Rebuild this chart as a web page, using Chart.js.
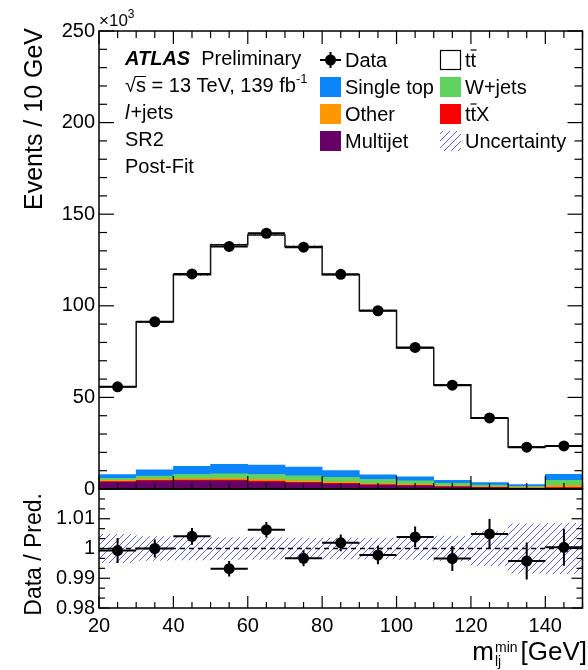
<!DOCTYPE html>
<html><head><meta charset="utf-8">
<script src="https://cdn.jsdelivr.net/npm/chart.js@4.4.0/dist/chart.umd.min.js"></script>
<style>html,body{margin:0;padding:0;background:#fff;}canvas{display:block;}</style>
</head><body>
<canvas id="c" width="588" height="670"></canvas>
<script>
// ---- data (events in units of 10^3) ----
const binCenters = [25, 35, 45, 55, 65, 75, 85, 95, 105, 115, 125, 135, 145];
const dataEvents = [55.8, 91.3, 117.4, 132.4, 139.6, 132.0, 117.2, 97.3, 77.3, 56.7, 38.8, 22.8, 23.5];
const ttbar      = [47.9, 80.9, 104.5, 119.9, 125.7, 120.4, 107.0, 89.7, 70.4, 52.15, 35.15, 20.55, 15.5];
const singleTop  = [2.1, 3.3, 4.5, 5.1, 5.1, 4.8, 3.6, 2.6, 2.2, 1.65, 1.25, 0.85, 3.2];
const wjets      = [1.1, 1.7, 2.3, 2.6, 2.8, 2.8, 2.6, 2.3, 2.0, 1.4, 1.0, 0.7, 3.0];
const other      = [0.6, 0.7, 0.7, 0.8, 0.8, 0.7, 0.65, 0.5, 0.45, 0.4, 0.35, 0.3, 1.0];
const ttX        = [0.3, 0.4, 0.5, 0.5, 0.5, 0.5, 0.45, 0.4, 0.35, 0.3, 0.25, 0.2, 0.3];
const multijet   = [3.8, 4.3, 4.4, 4.4, 3.8, 3.2, 2.7, 2.0, 1.6, 1.0, 0.6, 0.3, 0.5];
const ratio      = [0.9993, 1.0000, 1.0041, 0.9932, 1.0063, 0.9967, 1.0019, 0.9978, 1.0039, 0.9966, 1.0049, 0.9958, 1.0004];
const ratioErr   = [0.0042, 0.0030, 0.0028, 0.0026, 0.0026, 0.0027, 0.0028, 0.0031, 0.0035, 0.0042, 0.0050, 0.0062, 0.0062];
const relUnc     = [0.0048, 0.0040, 0.0038, 0.0037, 0.0036, 0.0035, 0.0035, 0.0035, 0.0037, 0.0042, 0.0058, 0.0083, 0.0085];
const xTickLabels = [20, 40, 60, 80, 100, 120, 140];
const yTickLabels = [0, 50, 100, 150, 200, 250];
const ratioTickLabels = [0.98, 0.99, 1, 1.01];
const BIN_HALF = 5;

// ---- derived tables for the library ----
const total = binCenters.map((_, i) => ttbar[i] + singleTop[i] + wjets[i] + other[i] + ttX[i] + multijet[i]);
const xy = (arr) => binCenters.map((c, i) => ({x: c, y: arr[i]}));
const stepPts = binCenters.map((c, i) => ({x: c - BIN_HALF, y: total[i]}))
  .concat([{x: binCenters[binCenters.length - 1] + BIN_HALF, y: total[total.length - 1]}]);
const hBars = (vals) => binCenters.flatMap((c, i) => [{x: c - BIN_HALF, y: vals[i]}, {x: c + BIN_HALF, y: vals[i]}, {x: c + BIN_HALF, y: null}]);
const vBars = (vals, errs) => binCenters.flatMap((c, i) => [{x: c, y: vals[i] - errs[i]}, {x: c, y: vals[i] + errs[i]}, {x: c, y: null}]);

const FONT = '"Liberation Sans", Arial, Helvetica, sans-serif';

function hatch(color) {
  const s = 7;
  const c = document.createElement('canvas'); c.width = s; c.height = s;
  const g = c.getContext('2d');
  g.strokeStyle = color; g.lineWidth = 1;
  g.beginPath();
  g.moveTo(0, s); g.lineTo(s, 0);
  g.moveTo(-1, 1); g.lineTo(1, -1);
  g.moveTo(s - 1, s + 1); g.lineTo(s + 1, s - 1);
  g.stroke();
  return g.createPattern(c, 'repeat');
}
const HATCH = hatch('#5f5fe2');

const COLORS = {
  single: 'rgb(12,132,250)', wjets: 'rgb(96,210,96)', other: 'rgb(255,152,0)',
  ttx: 'rgb(250,0,0)', multi: 'rgb(102,0,102)'
};

const barBase = {type: 'bar', yAxisID: 'y', xAxisID: 'x', stack: 'mc', grouped: false,
  barPercentage: 1, categoryPercentage: 1, borderWidth: 0, order: 10};

const decor = {
  id: 'decor',
  afterDatasetsDraw(chart) {
    const {ctx} = chart;
    const x = chart.scales.x, y = chart.scales.y, yr = chart.scales.yr;
    const L = x.left, R = x.right;
    ctx.save();
    ctx.strokeStyle = '#000';
    const seg = (x1, y1, x2, y2) => { ctx.beginPath(); ctx.moveTo(x1, y1); ctx.lineTo(x2, y2); ctx.stroke(); };
    ctx.lineWidth = 1.2;
    for (let v = 20; v <= 150; v += 5) {
      const px = x.getPixelForValue(v);
      const maj = v % 20 === 0;
      seg(px, y.top, px, y.top + (maj ? 13 : 7));
      seg(px, y.bottom, px, y.bottom - (maj ? 13 : 6));
      seg(px, yr.bottom, px, yr.bottom - (maj ? 12 : 6));
    }
    for (let v = 0; v <= 250; v += 10) {
      const py = y.getPixelForValue(v);
      const maj = v % 50 === 0;
      seg(L, py, L + (maj ? 15 : 8), py);
      seg(R, py, R - (maj ? 15 : 8), py);
    }
    for (let k = 0; k <= 12; k++) {
      const v = 0.98 + k * 0.01 / 3;
      const py = yr.getPixelForValue(v);
      const maj = k % 3 === 0;
      seg(L, py, L + (maj ? 11 : 6), py);
      seg(R, py, R - (maj ? 11 : 6), py);
    }
    ctx.lineWidth = 1.5;
    ctx.strokeRect(L, y.top, R - L, y.bottom - y.top);
    ctx.strokeRect(L, yr.top, R - L, yr.bottom - yr.top);
    ctx.restore();
  },
  afterDraw(chart) {
    const {ctx} = chart;
    ctx.save();
    ctx.fillStyle = '#000';
    ctx.textBaseline = 'alphabetic';
    const txt = (s, x, y, size, style, align) => {
      ctx.font = (style || '') + ' ' + size + 'px ' + FONT;
      ctx.textAlign = align || 'left';
      ctx.fillText(s, x, y);
      return ctx.measureText(s).width;
    };
    // x10^3
    const w10 = txt('\u00d710', 99, 26, 17);
    txt('3', 99 + w10, 18, 12);
    // ATLAS label block
    const wA = txt('ATLAS', 125, 65, 20, 'bold italic');
    txt('Preliminary', 125 + wA + 11, 65, 20);
    const wr = txt('\u221a', 125, 92, 20);
    const ws = txt('s', 125 + wr, 92, 20);
    ctx.lineWidth = 1; ctx.strokeStyle = '#000';
    ctx.beginPath(); ctx.moveTo(125 + wr - 1, 76.5); ctx.lineTo(125 + wr + ws, 76.5); ctx.stroke();
    const wE = txt(' = 13 TeV, 139 fb', 125 + wr + ws, 92, 20);
    txt('-1', 125 + wr + ws + wE, 83, 13);
    const wl = txt('l', 125, 119, 20, 'italic');
    txt('+jets', 125 + wl + 1, 119, 20);
    txt('SR2', 125, 146, 20);
    txt('Post-Fit', 125, 173, 20);
    // legend
    const rows = [60, 87, 114, 141];
    const c1 = 320, c2 = 440, sw = 21, sh = 20;
    ctx.lineWidth = 2;
    ctx.beginPath(); ctx.moveTo(c1, rows[0]); ctx.lineTo(c1 + sw, rows[0]);
    ctx.moveTo(c1 + sw / 2, rows[0] - 8); ctx.lineTo(c1 + sw / 2, rows[0] + 8); ctx.stroke();
    ctx.beginPath(); ctx.arc(c1 + sw / 2, rows[0], 5.5, 0, Math.PI * 2); ctx.fill();
    txt('Data', 345, rows[0] + 7, 20);
    ctx.fillStyle = COLORS.single; ctx.fillRect(c1, rows[1] - sh / 2, sw, sh);
    ctx.fillStyle = COLORS.other; ctx.fillRect(c1, rows[2] - sh / 2, sw, sh);
    ctx.fillStyle = COLORS.multi; ctx.fillRect(c1, rows[3] - sh / 2, sw, sh);
    ctx.fillStyle = '#000';
    txt('Single top', 345, rows[1] + 7, 20);
    txt('Other', 345, rows[2] + 7, 20);
    txt('Multijet', 345, rows[3] + 7, 20);
    ctx.lineWidth = 1.2; ctx.strokeStyle = '#000';
    ctx.fillStyle = '#fff'; ctx.fillRect(c2, rows[0] - sh / 2, sw, sh);
    ctx.strokeRect(c2 + 0.5, rows[0] - sh / 2 + 0.5, sw - 1, sh - 1);
    ctx.fillStyle = COLORS.wjets; ctx.fillRect(c2, rows[1] - sh / 2, sw, sh);
    ctx.fillStyle = COLORS.ttx; ctx.fillRect(c2, rows[2] - sh / 2, sw, sh);
    ctx.fillStyle = HATCH; ctx.fillRect(c2, rows[3] - sh / 2, sw, sh);
    ctx.fillStyle = '#000';
    const tbar = (x0, yb) => {
      const wt = txt('t', x0, yb, 20);
      const wt2 = txt('t', x0 + wt, yb, 20);
      ctx.lineWidth = 1.2;
      ctx.beginPath(); ctx.moveTo(x0 + wt, yb - 17); ctx.lineTo(x0 + wt + wt2 + 0.5, yb - 17); ctx.stroke();
      return wt + wt2;
    };
    tbar(465, rows[0] + 7);
    txt('W+jets', 465, rows[1] + 7, 20);
    const wtt = tbar(465, rows[2] + 7);
    txt('X', 465 + wtt, rows[2] + 7, 20);
    txt('Uncertainty', 465, rows[3] + 7, 20);
    // axis titles
    ctx.save();
    ctx.translate(42, 28); ctx.rotate(-Math.PI / 2);
    txt('Events / 10 GeV', 0, 0, 25, '', 'right');
    ctx.restore();
    ctx.save();
    ctx.translate(41, 493); ctx.rotate(-Math.PI / 2);
    txt('Data / Pred.', 0, 0, 23, '', 'right');
    ctx.restore();
    const wG = txt('[GeV]', 587, 660, 26, '', 'right');
    const xs = 587 - wG - 3;
    ctx.font = '14px ' + FONT;
    const wmin = ctx.measureText('min').width;
    txt('min', xs - wmin, 652, 14);
    txt('lj', xs - wmin, 666, 14);
    txt('m', xs - wmin - 1, 660, 26, '', 'right');
    ctx.restore();
  }
};

new Chart(document.getElementById('c'), {
  type: 'bar',
  data: {
    datasets: [
      Object.assign({}, barBase, {label: 'Multijet', data: xy(multijet), backgroundColor: COLORS.multi}),
      Object.assign({}, barBase, {label: 'ttX', data: xy(ttX), backgroundColor: COLORS.ttx}),
      Object.assign({}, barBase, {label: 'Other', data: xy(other), backgroundColor: COLORS.other}),
      Object.assign({}, barBase, {label: 'W+jets', data: xy(wjets), backgroundColor: COLORS.wjets}),
      Object.assign({}, barBase, {label: 'Single top', data: xy(singleTop), backgroundColor: COLORS.single}),
      Object.assign({}, barBase, {label: 'ttbar', data: xy(ttbar), backgroundColor: '#ffffff'}),
      {type: 'bar', label: 'Uncertainty', yAxisID: 'y', grouped: false, barPercentage: 1, categoryPercentage: 1,
       borderWidth: 0, backgroundColor: HATCH, order: 8,
       data: binCenters.map((c, i) => ({x: c, y: [total[i] * (1 - relUnc[i]), total[i] * (1 + relUnc[i])]}))},
      {type: 'line', label: 'Prediction', yAxisID: 'y', data: stepPts, stepped: 'before', borderColor: '#111',
       borderWidth: 1.5, pointRadius: 0, fill: false, order: 5},
      {type: 'line', label: 'Data xerr', yAxisID: 'y', data: hBars(dataEvents), borderColor: '#000',
       borderWidth: 2, pointRadius: 0, spanGaps: false, order: 3},
      {type: 'line', label: 'Data', yAxisID: 'y', data: xy(dataEvents), showLine: false, pointRadius: 5.5,
       pointBackgroundColor: '#000', pointBorderColor: '#000', pointBorderWidth: 0, order: 1},
      {type: 'bar', label: 'Ratio band', yAxisID: 'yr', grouped: false, barPercentage: 1, categoryPercentage: 1,
       borderWidth: 0, backgroundColor: HATCH, order: 8,
       data: binCenters.map((c, i) => ({x: c, y: [1 - relUnc[i], 1 + relUnc[i]]}))},
      {type: 'line', label: 'One', yAxisID: 'yr', data: [{x: 20, y: 1}, {x: 150, y: 1}], borderColor: '#000',
       borderWidth: 1.5, borderDash: [5, 4], pointRadius: 0, order: 4},
      {type: 'line', label: 'Ratio xerr', yAxisID: 'yr', data: hBars(ratio), borderColor: '#000',
       borderWidth: 2, pointRadius: 0, spanGaps: false, order: 3},
      {type: 'line', label: 'Ratio yerr', yAxisID: 'yr', data: vBars(ratio, ratioErr), borderColor: '#000',
       borderWidth: 2, pointRadius: 0, spanGaps: false, order: 3},
      {type: 'line', label: 'Ratio', yAxisID: 'yr', data: xy(ratio), showLine: false, pointRadius: 5.5,
       pointBackgroundColor: '#000', pointBorderColor: '#000', pointBorderWidth: 0, order: 1}
    ]
  },
  options: {
    responsive: false,
    devicePixelRatio: 1,
    animation: false,
    layout: {padding: {top: 31, right: 1, left: 0, bottom: 0}},
    plugins: {legend: {display: false}, tooltip: {enabled: false}},
    scales: {
      x: {
        type: 'linear', min: 20, max: 150, offset: false,
        grid: {display: false, drawTicks: false}, border: {display: false},
        afterBuildTicks: (s) => { s.ticks = xTickLabels.map(v => ({value: v})); },
        afterFit: (s) => { s.height = 62; },
        ticks: {autoSkip: false, maxRotation: 0, padding: 6, color: '#000',
          font: {family: FONT, size: 20}, callback: (v) => String(v)}
      },
      yr: {
        type: 'linear', position: 'left', stack: 'panels', stackWeight: 119, min: 0.98, max: 1.02,
        grid: {display: false, drawTicks: false}, border: {display: false},
        afterBuildTicks: (s) => { s.ticks = ratioTickLabels.map(v => ({value: v})); },
        afterFit: (s) => { s.width = 99; },
        ticks: {autoSkip: false, padding: 4, color: '#000', font: {family: FONT, size: 20},
          callback: (v) => (Math.abs(v - 1) < 1e-9 ? '1' : (Math.round(v * 100) / 100).toFixed(2))}
      },
      y: {
        type: 'linear', position: 'left', stack: 'panels', stackWeight: 458, min: 0, max: 250,
        grid: {display: false, drawTicks: false}, border: {display: false},
        afterBuildTicks: (s) => { s.ticks = yTickLabels.map(v => ({value: v})); },
        afterFit: (s) => { s.width = 99; },
        ticks: {autoSkip: false, padding: 4, color: '#000', font: {family: FONT, size: 20},
          callback: (v) => String(v)}
      }
    }
  },
  plugins: [decor]
});
</script>
</body></html>
